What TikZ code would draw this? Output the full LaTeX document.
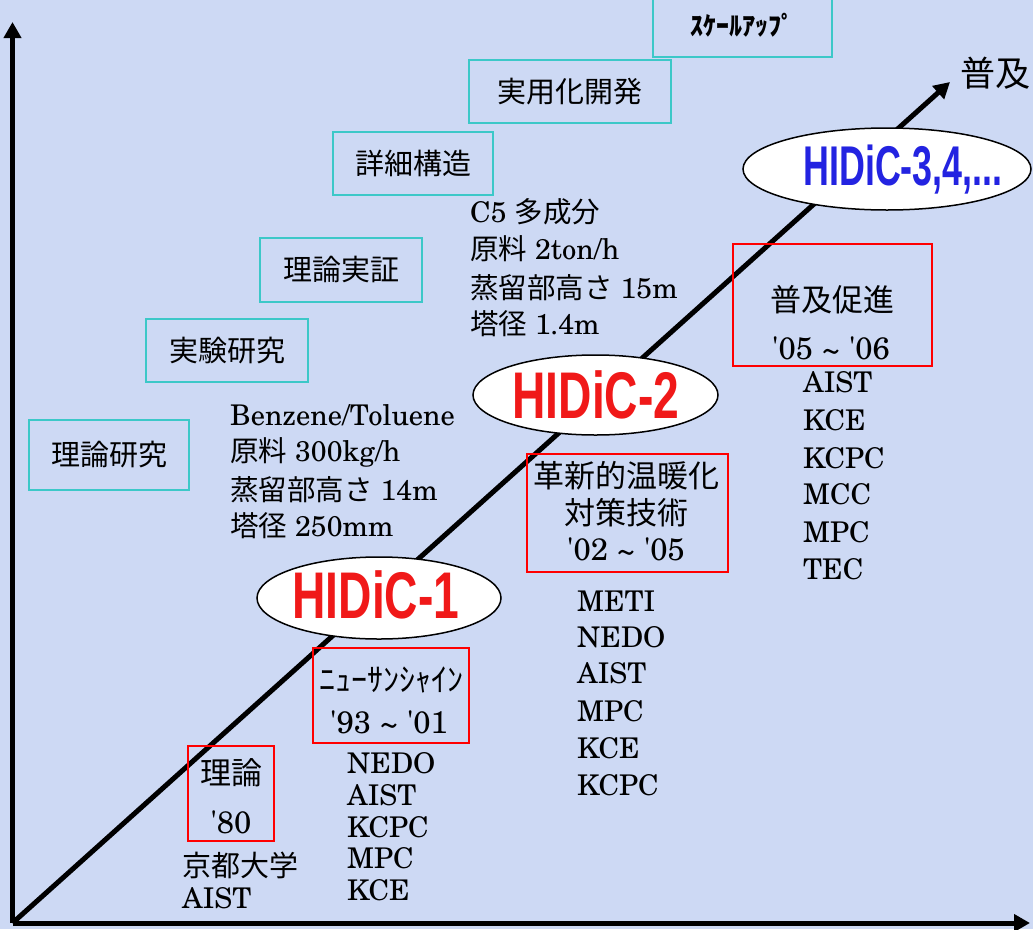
\documentclass[tikz,border=0pt]{standalone}
\usepackage{fontspec}
\setmainfont{texgyreschola-regular.otf}
\newfontfamily\jp{Noto Sans CJK JP}
\newfontfamily\hid{Liberation Sans}
\usetikzlibrary{arrows.meta,shapes.geometric}
\definecolor{bg}{RGB}{205,217,244}
\definecolor{cyanb}{RGB}{60,200,200}
\definecolor{hred}{RGB}{240,25,25}
\definecolor{hblue}{RGB}{35,35,225}
\newcommand\jtxt[1]{{\jp #1}}
\newcommand\apos{\textquotesingle}
\begin{document}
\begin{tikzpicture}[x=1pt,y=-1pt,
  axis/.style={line width=5pt, -{Triangle[length=16pt,width=17pt]}},
  lat/.style={font=\fontsize{28.5}{28.5}\selectfont, inner sep=0pt},
  yr/.style={font=\fontsize{31}{31}\selectfont, inner sep=0pt},
  lst/.style={lat, anchor=west},
  stage/.style={draw=cyanb, line width=2pt, inner sep=0pt, font=\jp\fontsize{29}{29}\selectfont},
  per/.style={draw=red, line width=2pt, inner sep=0pt},
  jl/.style={inner sep=0pt, font=\jp\fontsize{31}{31}\selectfont},
  elli/.style={ellipse, draw=black, line width=1.5pt, fill=white, inner sep=0pt},
  hidic/.style={inner sep=0pt, font=\hid\bfseries\fontsize{66}{66}\selectfont, text=hred}
]
\useasboundingbox (0,0) rectangle (1033,929);
\fill[bg] (0,0) rectangle (1033,929);

% axes
\coordinate (O) at (12.5,923);
\coordinate (Ytip) at (12.5,22);
\coordinate (Xtip) at (1030,923);
\coordinate (Dtip) at (950,82);
\draw[axis] (O) -- (Ytip);
\draw[axis] (O) -- (Xtip);
\draw[axis] (O) -- (Dtip);
\node[inner sep=0pt, font=\jp\fontsize{35}{35}\selectfont] (fukyu) at (995,73) {普及};

% stage boxes (cyan)
\node[stage, minimum width=160, minimum height=70] (s1) at (109,455) {理論研究};
\node[stage, minimum width=162, minimum height=63] (s2) at (227,350.5) {実験研究};
\node[stage, minimum width=162, minimum height=64] (s3) at (341,270) {理論実証};
\node[stage, minimum width=160, minimum height=63] (s4) at (413,163.5) {詳細構造};
\node[stage, minimum width=202, minimum height=63] (s5) at (570,91.5) {実用化開発};
\node[stage, minimum width=179, minimum height=63, font=\jp\bfseries\fontsize{26}{26}\selectfont] (s6) at (742.5,25.5) {ｽｹｰﾙｱｯﾌﾟ};

% ellipses
\node[elli, minimum width=244, minimum height=82] (e1) at (379,598) {};
\node[hidic] (h1) at (376,595) {\scalebox{0.70}[1]{HIDiC-1}};
\node[elli, minimum width=245, minimum height=80] (e2) at (595.5,395) {};
\node[hidic] (h2) at (596,395) {\scalebox{0.70}[1]{HIDiC-2}};
\node[elli, minimum width=288, minimum height=82] (e3) at (887,169) {};
\node[hidic, text=hblue, font=\hid\bfseries\fontsize{56}{56}\selectfont] (h3) at (903,170) {\scalebox{0.64}[1]{HIDiC-3,4,...}};

% red period boxes
\node[per, minimum width=86, minimum height=95] (r1) at (231,793.5) {};
\node[jl] (r1a) at (231,773) {理論};
\node[yr] (r1b) at (231,822) {\apos 80};

\node[per, minimum width=156, minimum height=95] (r2) at (391,695.5) {};
\node[jl, font=\jp\fontsize{32}{32}\selectfont] (r2a) at (391,680) {ﾆｭｰｻﾝｼｬｲﾝ};
\node[yr] (r2b) at (389,722) {\apos 93 \textasciitilde{} \apos 01};

\node[per, minimum width=201, minimum height=118] (r3) at (627.5,513) {};
\node[jl] (r3a) at (626,476) {革新的温暖化};
\node[jl] (r3b) at (626,513) {対策技術};
\node[yr] (r3c) at (626,549) {\apos 02 \textasciitilde{} \apos 05};

\node[per, minimum width=199, minimum height=122] (r4) at (832.5,305) {};
\node[jl] (r4a) at (832,300) {普及促進};
\node[yr] (r4b) at (831,348) {\apos 05 \textasciitilde{} \apos 06};

% lists
\node[lst] (k1) at (182,865) {\jtxt{\fontsize{29}{29}\selectfont 京都大学}};
\node[lst] (k2) at (182,898) {AIST};

\foreach \t/\y [count=\i] in {NEDO/763, AIST/795, KCPC/827, MPC/858, KCE/890}
  \node[lst] (b\i) at (347,\y) {\t};
\foreach \t/\y [count=\i] in {METI/601, NEDO/637, AIST/673, MPC/711, KCE/748, KCPC/785}
  \node[lst] (c\i) at (577,\y) {\t};
\foreach \t/\y [count=\i] in {AIST/382, KCE/420, KCPC/458, MCC/494, MPC/532, TEC/569}
  \node[lst] (d\i) at (803,\y) {\t};

\node[lst] (p1) at (230,415) {Benzene/Toluene};
\node[lst] (p2) at (230,452) {\jtxt{原料} 300kg/h};
\node[lst] (p3) at (230,490) {\jtxt{蒸留部高さ} 14m};
\node[lst] (p4) at (230,526) {\jtxt{塔径} 250mm};

\node[lst] (q1) at (470,212) {C5 \jtxt{多成分}};
\node[lst] (q2) at (470,249) {\jtxt{原料} 2ton/h};
\node[lst] (q3) at (470,288) {\jtxt{蒸留部高さ} 15m};
\node[lst] (q4) at (470,324) {\jtxt{塔径} 1.4m};
\end{tikzpicture}
\end{document}
